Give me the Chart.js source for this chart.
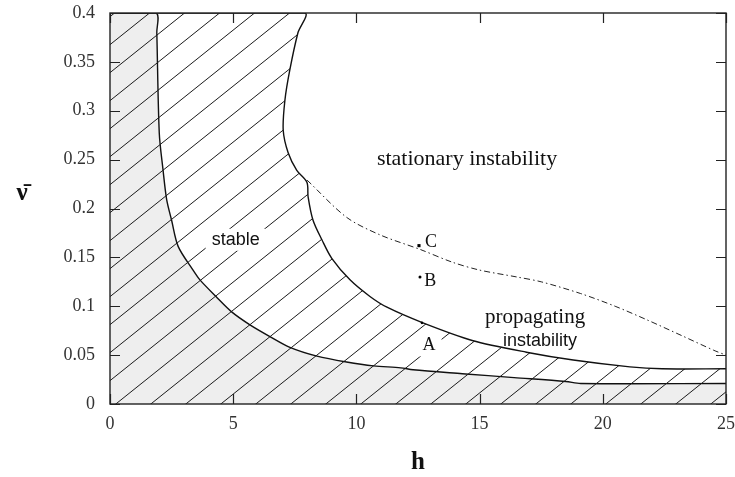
<!DOCTYPE html>
<html>
<head>
<meta charset="utf-8">
<script src="https://cdn.jsdelivr.net/npm/chart.js@4.4.0/dist/chart.umd.min.js"></script>
<style>
html,body{margin:0;padding:0;background:#fff;}
</style>
</head>
<body>
<canvas id="myChart" width="735" height="477"></canvas>
<script>
// axes
const xTicks = [0, 5, 10, 15, 20, 25]
const yTicks = [0, 0.05, 0.1, 0.15, 0.2, 0.25, 0.3, 0.35, 0.4]
const yTickLabels = ['0', '0.05', '0.1', '0.15', '0.2', '0.25', '0.3', '0.35', '0.4']

// outer boundary of the stable (hatched) region
const outerH = [0, 7.9, 7.63, 7.3, 7.1, 7.03, 7.23, 7.58, 7.99, 8.04, 8.24, 8.6, 9.0, 9.74, 10.55, 11.24, 12.7, 14.7, 16.9, 18.8, 21.1, 22.4, 25]
const outerV = [0.4, 0.4, 0.38, 0.342, 0.311, 0.28, 0.257, 0.239, 0.227, 0.212, 0.188, 0.168, 0.149, 0.127, 0.11, 0.099, 0.083, 0.065, 0.053, 0.045, 0.038, 0.036, 0.036]

// inner boundary (grey region)
const innerH = [0, 1.87, 1.9, 2.0, 2.15, 2.3, 2.5, 2.77, 3.37, 3.65, 4.3, 4.95, 5.68, 6.49, 7.3, 8.4, 9.6, 10.7, 11.8, 12.3, 14.3, 16.4, 18.5, 19.1, 25]
const innerV = [0.4, 0.4, 0.38, 0.277, 0.24, 0.209, 0.188, 0.161, 0.137, 0.127, 0.11, 0.094, 0.081, 0.069, 0.058, 0.049, 0.043, 0.039, 0.037, 0.035, 0.031, 0.027, 0.023, 0.021, 0.021]

// stationary / propagating border (dash-dot)
const dashH = [8.0, 9.6, 10.96, 12.6, 13.9, 15.0, 16.5, 17.5, 19.1, 20.5, 21.8, 23.2, 24.5, 25]
const dashV = [0.229, 0.191, 0.173, 0.158, 0.145, 0.137, 0.13, 0.125, 0.113, 0.1, 0.086, 0.07, 0.055, 0.05]

// marked points
const ptNames = ['A', 'B', 'C']
const ptH = [12.66, 12.58, 12.54]
const ptV = [0.083, 0.13, 0.162]

const xy = (hs, vs) => hs.map((h, i) => ({x: h, y: vs[i]}))

// hatch pattern (35 x 28 tile, lines x + 1.25y = 25.8 + 35k)
const tile = document.createElement('canvas')
tile.width = 35; tile.height = 28
const tc = tile.getContext('2d')
tc.strokeStyle = '#1a1a1a'
tc.lineWidth = 1
for (let k = -3; k <= 3; k++) {
  const c = 25.8 + 35 * k
  tc.beginPath()
  tc.moveTo(c + 35, -28)
  tc.lineTo(c - 70, 56)
  tc.stroke()
}
const $ctx = document.getElementById('myChart').getContext('2d')
const hatch = $ctx.createPattern(tile, 'repeat')

const labels = [
  {text: 'stationary instability', h: 14.49, v: 0.25, font: '22px "Liberation Serif"'},
  {text: 'stable', h: 5.1, v: 0.168, font: '18px "Liberation Sans"', box: true},
  {text: 'propagating', h: 17.25, v: 0.088, font: '21px "Liberation Serif"'},
  {text: 'instability', h: 17.45, v: 0.0645, font: '18px "Liberation Sans"'},
  {text: ptNames[0], h: 12.95, v: 0.06, font: '18px "Liberation Serif"', box: true},
  {text: ptNames[1], h: 13.0, v: 0.126, font: '18px "Liberation Serif"'},
  {text: ptNames[2], h: 13.03, v: 0.165, font: '18px "Liberation Serif"'}
]

const textPlugin = {
  id: 'texts',
  afterDatasetsDraw(chart) {
    const {ctx, scales: {x, y}} = chart
    ctx.save()
    ctx.textAlign = 'center'
    ctx.textBaseline = 'middle'
    labels.forEach(l => {
      const px = x.getPixelForValue(l.h), py = y.getPixelForValue(l.v)
      ctx.font = l.font
      if (l.box) {
        const w = ctx.measureText(l.text).width
        ctx.fillStyle = '#fff'
        ctx.fillRect(px - w / 2 - 6, py - 11, w + 12, 22)
      }
      ctx.fillStyle = '#111'
      ctx.fillText(l.text, px, py)
    })
    ctx.restore()
  }
}

const frame = {
  id: 'frame',
  afterDraw(chart) {
    const {ctx, chartArea: a, scales: {x, y}} = chart
    ctx.save()
    ctx.strokeStyle = '#222'
    ctx.lineWidth = 1.4
    ctx.strokeRect(a.left, a.top, a.right - a.left, a.bottom - a.top)
    ctx.lineWidth = 1.2
    ctx.beginPath()
    xTicks.forEach(v => {
      const px = Math.round(x.getPixelForValue(v)) + 0.5
      ctx.moveTo(px, a.bottom); ctx.lineTo(px, a.bottom - 10)
      ctx.moveTo(px, a.top); ctx.lineTo(px, a.top + 10)
    })
    yTicks.forEach(v => {
      const py = Math.round(y.getPixelForValue(v)) + 0.5
      ctx.moveTo(a.left, py); ctx.lineTo(a.left + 10, py)
      ctx.moveTo(a.right, py); ctx.lineTo(a.right - 10, py)
    })
    ctx.stroke()
    // axis titles
    ctx.fillStyle = '#111'
    ctx.textAlign = 'center'
    ctx.textBaseline = 'alphabetic'
    ctx.font = 'bold 25px "Liberation Serif"'
    ctx.fillText('h', (a.left + a.right) / 2, 469)
    ctx.fillText('\u03bd\u0304', 22, 200)
    ctx.restore()
  }
}

const config = {
  type: 'scatter',
  data: {
    datasets: [
      {label: 'points', data: xy(ptH, ptV), pointStyle: ['circle', 'circle', 'rect'], pointRadius: [1.3, 1.5, 2.2],
        backgroundColor: '#000', borderColor: '#000', borderWidth: 0},
      {label: 'dash', data: xy(dashH, dashV), showLine: true, borderColor: '#222', borderWidth: 1,
        borderDash: [6, 3, 1.5, 3], pointRadius: 0, tension: 0.3, fill: false},
      {label: 'outer', data: xy(outerH, outerV), showLine: true, borderColor: '#111', borderWidth: 1.4,
        pointRadius: 0, tension: 0.3, fill: 'origin', backgroundColor: hatch},
      {label: 'inner', data: xy(innerH, innerV), showLine: true, borderColor: '#111', borderWidth: 1.4,
        pointRadius: 0, tension: 0.3, fill: 'origin', backgroundColor: '#eeeeee'}
    ]
  },
  options: {
    responsive: false,
    animation: false,
    devicePixelRatio: 1,
    layout: {padding: {left: 0, top: 13, right: 9, bottom: 0}},
    plugins: {legend: {display: false}, tooltip: {enabled: false}},
    scales: {
      x: {
        type: 'linear', min: 0, max: 25,
        grid: {display: false, drawTicks: false},
        border: {display: false},
        afterBuildTicks: s => { s.ticks = xTicks.map(v => ({value: v})) },
        afterFit: s => { s.height = 73; s.paddingLeft = 0; s.paddingRight = 0 },
        ticks: {padding: 9, color: '#333', font: {family: 'Liberation Serif', size: 18}, maxRotation: 0}
      },
      y: {
        type: 'linear', min: 0, max: 0.4,
        grid: {display: false, drawTicks: false},
        border: {display: false},
        afterBuildTicks: s => { s.ticks = yTicks.map(v => ({value: v})) },
        afterFit: s => { s.width = 110; s.paddingTop = 0; s.paddingBottom = 0 },
        ticks: {padding: 15, color: '#333', font: {family: 'Liberation Serif', size: 18},
          callback: (v, i) => yTickLabels[i]}
      }
    }
  },
  plugins: [textPlugin, frame]
}

var mychar = new Chart($ctx, config)
</script>
</body>
</html>
